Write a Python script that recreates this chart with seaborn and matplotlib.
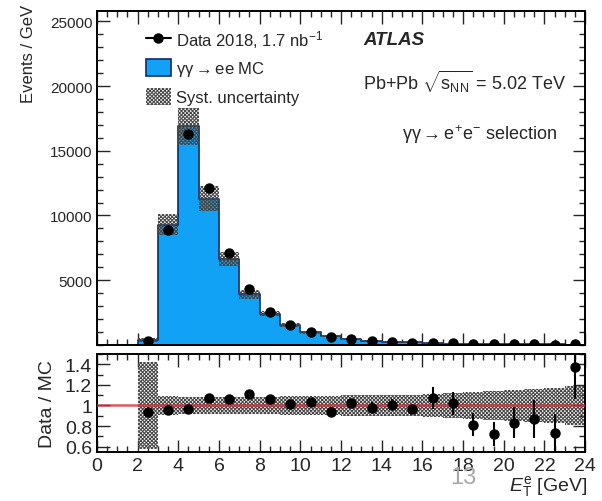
import numpy as np
import pandas as pd
import seaborn as sns
import matplotlib.pyplot as plt
from matplotlib.lines import Line2D
from matplotlib.patches import Patch
from matplotlib.ticker import MultipleLocator

# bins de 1 GeV entre 2 y 24 GeV
bin_edges = [2, 3, 4, 5, 6, 7, 8, 9, 10, 11, 12, 13, 14, 15, 16, 17, 18, 19, 20, 21, 22, 23, 24]
mc_events = [350, 9300, 16900, 11300, 6650, 3900, 2400, 1530, 960, 650, 450, 330,
             250, 190, 140, 105, 80, 62, 48, 38, 30, 24]
data_events = [327, 8880, 16310, 12090, 7080, 4330, 2556, 1545, 989, 611, 459, 323,
               252, 183, 150, 107, 65, 45, 40, 33, 22, 33]
ratio_err = [0.03, 0.012, 0.01, 0.012, 0.015, 0.02, 0.025, 0.03, 0.035, 0.04, 0.045, 0.05,
             0.055, 0.04, 0.11, 0.11, 0.11, 0.115, 0.15, 0.18, 0.18, 0.31]
syst_rel = [0.42, 0.088, 0.085, 0.085, 0.085, 0.085, 0.085, 0.088, 0.09, 0.095, 0.1, 0.1,
            0.105, 0.105, 0.11, 0.12, 0.13, 0.14, 0.15, 0.16, 0.17, 0.19]

edges = np.array(bin_edges, dtype=float)
centers = 0.5 * (edges[:-1] + edges[1:])
df = pd.DataFrame({'Et': centers, 'mc': mc_events, 'data': data_events,
                   'rerr': ratio_err, 'syst': syst_rel})
df['ratio'] = df['data'] / df['mc']

sns.set_style('ticks')
plt.rcParams['font.family'] = ['Liberation Sans', 'DejaVu Sans']
plt.rcParams['mathtext.fontset'] = 'custom'
plt.rcParams['mathtext.rm'] = 'Liberation Sans'
plt.rcParams['mathtext.it'] = 'Liberation Sans:italic'
plt.rcParams['mathtext.bf'] = 'Liberation Sans:bold'
plt.rcParams['hatch.linewidth'] = 0.75

blue = '#12a2f5'
navy = '#0b2a6b'
hatch_edge = '#474747'
hatch = 'x' * 9

fig = plt.figure(figsize=(6.02, 5.02), dpi=100)
ax = fig.add_axes([0.161, 0.311, 0.811, 0.665])
ax2 = fig.add_axes([0.161, 0.098, 0.811, 0.195], sharex=ax)

# 1. histograma MC
sns.histplot(data=df, x='Et', weights='mc', bins=bin_edges, element='step', fill=True,
             color=blue, alpha=1, edgecolor=navy, linewidth=1.2, ax=ax)

# incertidumbre sistematica
mc = df['mc'].to_numpy()
s = df['syst'].to_numpy()
lo = np.append(mc * (1 - s), mc[-1] * (1 - s[-1]))
hi = np.append(mc * (1 + s), mc[-1] * (1 + s[-1]))
ax.fill_between(edges, lo, hi, step='post', facecolor='none', hatch=hatch,
                edgecolor=hatch_edge, linewidth=0)

# datos
ax.errorbar(df['Et'], df['data'], yerr=df['data'] * df['rerr'], fmt='o', color='black',
            ms=6.5, elinewidth=1.5, capsize=0, zorder=5)

ax.set_xlim(0, 24)
ax.set_ylim(0, 25800)
ax.set_yticks([5000, 10000, 15000, 20000, 25000])
ax.yaxis.set_minor_locator(MultipleLocator(1000))
ax.xaxis.set_major_locator(MultipleLocator(2))
ax.xaxis.set_minor_locator(MultipleLocator(0.5))
ax.tick_params(axis='x', labelbottom=False)
ax.tick_params(which='both', direction='in', top=True, right=True, width=1.0)
ax.tick_params(which='major', length=9)
ax.tick_params(which='minor', length=4.5)
ax.tick_params(axis='y', labelsize=11, pad=3)
ax.set_xlabel('')
ax.set_ylabel('Events / GeV', fontsize=12, loc='top')
ax.yaxis.set_label_coords(-0.125, 1.022)

handles = [Line2D([], [], color='black', marker='o', ms=6.5, lw=1.5),
           Patch(facecolor=blue, edgecolor=navy, linewidth=1.2),
           Patch(facecolor='white', edgecolor=hatch_edge, hatch=hatch, linewidth=0)]
labels = ['Data 2018, 1.7 nb$^{-1}$', 'γγ$\\rightarrow$ee MC', 'Syst. uncertainty']
ax.legend(handles, labels, loc='upper left', bbox_to_anchor=(0.1, 0.95), frameon=False,
          fontsize=12, handlelength=1.5, handleheight=1.15, handletextpad=0.3,
          labelspacing=0.58, borderaxespad=0, borderpad=0)

ax.text(0.545, 0.916, 'ATLAS', transform=ax.transAxes, fontsize=13.5,
        fontweight='bold', fontstyle='italic', va='center')
ax.text(0.545, 0.79, r'Pb+Pb $\sqrt{\mathrm{s}_{\mathrm{NN}}}$ = 5.02 TeV',
        transform=ax.transAxes, fontsize=13, va='center')
ax.text(0.625, 0.632, 'γγ$\\rightarrow$e$^{+}$e$^{-}$ selection',
        transform=ax.transAxes, fontsize=13, va='center')

# 2. cociente Data / MC
lo_r = np.append(1 - s, 1 - s[-1])
hi_r = np.append(1 + s, 1 + s[-1])
ax2.fill_between(edges, lo_r, hi_r, step='post', facecolor='none', hatch=hatch,
                 edgecolor=hatch_edge, linewidth=0)
ax2.axhline(1, color='#d0303a', lw=1.8, alpha=0.8, zorder=3)
ax2.errorbar(df['Et'], df['ratio'], yerr=df['rerr'], fmt='o', color='black',
             ms=6.5, elinewidth=1.5, capsize=0, zorder=5)

ax2.set_xlim(0, 24)
ax2.set_ylim(0.55, 1.5)
ax2.set_yticks([0.6, 0.8, 1.0, 1.2, 1.4])
ax2.set_yticklabels(['0.6', '0.8', '1', '1.2', '1.4'])
ax2.yaxis.set_minor_locator(MultipleLocator(0.1))
ax2.tick_params(which='both', direction='in', top=True, right=True, width=1.0, labelsize=14)
ax2.tick_params(which='major', length=9)
ax2.tick_params(which='minor', length=4.5)
ax2.set_ylabel('Data / MC', fontsize=14, labelpad=6)
ax2.set_xlabel('')
fig.text(0.975, 0.03, '$E_{\\mathrm{T}}^{\\mathrm{e}}$ [GeV]', fontsize=14,
         ha='right', va='center')

for a in (ax, ax2):
    for sp in a.spines.values():
        sp.set_linewidth(1.4)
        sp.set_color('black')

fig.text(0.769, 0.048, '13', fontsize=17, color='#a8a8a8', ha='center', va='center')

plt.savefig('out.png', dpi=100)
